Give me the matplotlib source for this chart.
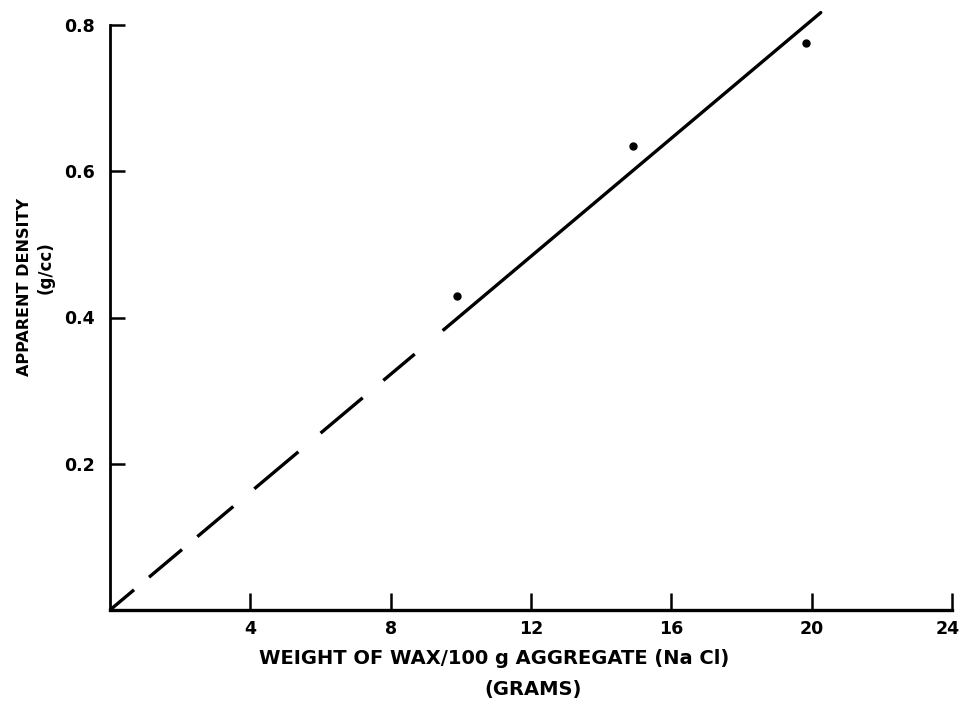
import matplotlib
matplotlib.use("Agg")
import matplotlib.pyplot as plt
from matplotlib.transforms import ScaledTranslation

# Data
wax_g = [9.9, 14.9, 19.85]
density = [0.43, 0.635, 0.775]

# Fitted line (through origin), dashed extrapolation then solid portion
fit_x_dashed = [0, 9.53]
fit_y_dashed = [0, 0.384]
fit_x_solid = [9.53, 20.26]
fit_y_solid = [0.384, 0.817]

x_ticks = [4, 8, 12, 16, 20, 24]
x_ticklabels = ["4", "8", "12", "16", "20", "24"]
y_ticks = [0.2, 0.4, 0.6, 0.8]
y_ticklabels = ["0.2", "0.4", "0.6", "0.8"]

plt.rcParams['font.family'] = ['DejaVu Sans']
plt.rcParams['lines.scale_dashes'] = False

fig = plt.figure(figsize=(9.62, 7.02), dpi=100)
ax = fig.add_axes([110/962, 92/702, 842/962, 585/702])

# hand-drawn, uneven dash pattern (points)
dash_seq = (22.6, 14.1, 31.0, 14.4, 33.8, 19.8, 41.4, 20.9, 39.6, 19.4, 29.5, 26.3)
ax.plot(fit_x_dashed, fit_y_dashed, color='black', lw=2.4,
        linestyle=(0, dash_seq), dash_capstyle='butt', clip_on=False)
ax.plot(fit_x_solid, fit_y_solid, color='black', lw=2.4, solid_capstyle='round', clip_on=False)
ax.plot(wax_g, density, 'o', color='black', markersize=5, clip_on=False)

ax.set_xlim(0, 24)
ax.set_ylim(0, 0.8)
ax.spines['top'].set_visible(False)
ax.spines['right'].set_visible(False)
ax.spines['bottom'].set_linewidth(2.4)
ax.spines['left'].set_linewidth(2.0)

ax.set_xticks(x_ticks)
ax.set_xticklabels(x_ticklabels)
ax.set_yticks(y_ticks)
ax.set_yticklabels(y_ticklabels)
ax.tick_params(axis='x', direction='in', length=12, width=1.8, pad=7, labelsize=12.5)
ax.tick_params(axis='y', direction='in', length=11, width=1.8, pad=11, labelsize=12.5)
for lab in ax.get_xticklabels() + ax.get_yticklabels():
    lab.set_fontweight('bold')
last = ax.get_xticklabels()[-1]
last.set_transform(last.get_transform() + ScaledTranslation(-4/100, 0, fig.dpi_scale_trans))

fig.text(494/962, 1 - 658/702, "WEIGHT OF WAX/100 g AGGREGATE (Na Cl)", ha='center', va='center',
         fontsize=14, fontweight='bold')
fig.text(533/962, 1 - 690/702, "(GRAMS)", ha='center', va='center',
         fontsize=14, fontweight='bold')
fig.text(25/962, 1 - 287/702, "APPARENT DENSITY", ha='center', va='center', rotation=90,
         fontsize=11.5, fontweight='bold')
fig.text(46/962, 1 - 268/702, "(g/cc)", ha='center', va='center', rotation=90,
         fontsize=12, fontweight='bold')

fig.savefig("out.png", dpi=100)
